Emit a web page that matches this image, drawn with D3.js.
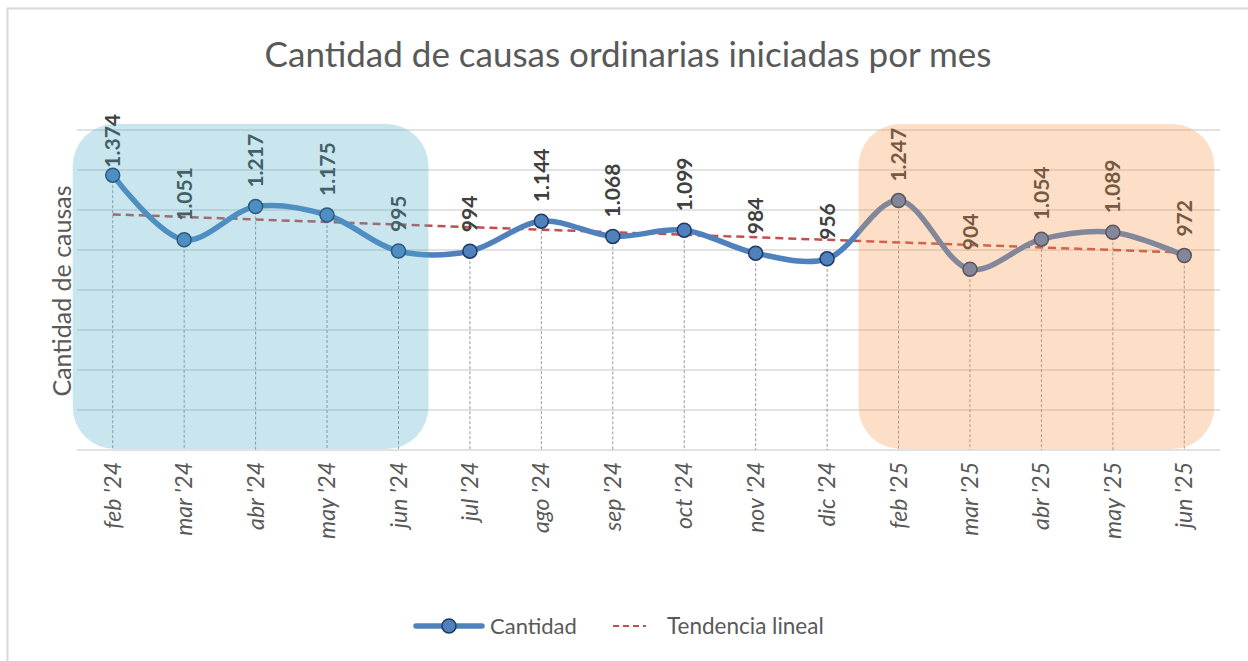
<!DOCTYPE html>
<html><head><meta charset="utf-8">
<script src="https://cdn.jsdelivr.net/npm/d3@7"></script>
<style>
html,body{margin:0;padding:0;background:#fff;}
svg{display:block;}
text{font-family:Lato,"Open Sans",sans-serif;}
</style></head>
<body>
<svg id="chart" width="1248" height="661"></svg>
<script>
const months = ["feb '24","mar '24","abr '24","may '24","jun '24","jul '24","ago '24","sep '24","oct '24","nov '24","dic '24","feb '25","mar '25","abr '25","may '25","jun '25"];
const cantidad = [1374,1051,1217,1175,995,994,1144,1068,1099,984,956,1247,904,1054,1089,972];
const yTicks = [0,200,400,600,800,1000,1200,1400,1600];
const titleText = "Cantidad de causas ordinarias iniciadas por mes";
const yTitle = "Cantidad de causas";
const legendLabels = ["Cantidad","Tendencia lineal"];
const highlight1 = ["feb '24","jun '24"];
const highlight2 = ["feb '25","jun '25"];

const svg = d3.select("#chart");
const W = 1248, H = 661;
const plot = {left:77, right:1220, top:130, bottom:450};

const x = d3.scaleBand().domain(months).range([plot.left, plot.right]);
const cx = d => x(d) + x.bandwidth()/2;
const y = d3.scaleLinear().domain([0,1600]).range([plot.bottom, plot.top]);
const fmt = d3.formatLocale({decimal:",", thousands:".", grouping:[3], currency:["$",""]}).format(",d");

// border
svg.append("rect").attr("x",7.5).attr("y",8.5).attr("width",W+10).attr("height",H+10)
  .attr("fill","#fff").attr("stroke","#d9d9d9").attr("stroke-width",2);

// title
svg.append("text").attr("x",628).attr("y",67).attr("text-anchor","middle")
  .attr("font-size",35).attr("fill","#595959").text(titleText);

// y title
svg.append("text").attr("transform","translate(71,291) rotate(-90)").attr("text-anchor","middle")
  .attr("font-size",25).attr("fill","#595959").text(yTitle);

// gridlines
svg.append("g").selectAll("line").data(yTicks).join("line")
  .attr("x1",plot.left).attr("x2",plot.right)
  .attr("y1",d=>y(d)).attr("y2",d=>y(d))
  .attr("stroke","#d9d9d9").attr("stroke-width",1.5);

// x axis labels
const xAxis = svg.append("g").attr("transform",`translate(0,${plot.bottom})`)
  .call(d3.axisBottom(x).tickSize(0).tickPadding(0));
xAxis.select(".domain").remove();
xAxis.selectAll(".tick text")
  .attr("transform","translate(0,12) rotate(-90)")
  .attr("text-anchor","end").attr("dy","0.35em").attr("x",0).attr("y",0)
  .attr("font-size",23).attr("font-style","italic").attr("fill","#595959")
  .attr("font-family","Lato,'Open Sans',sans-serif");

// drop lines
const pts = months.map((m,i)=>({m, v:cantidad[i], i}));
svg.append("g").selectAll("line").data(pts).join("line")
  .attr("x1",d=>cx(d.m)).attr("x2",d=>cx(d.m))
  .attr("y1",d=>y(d.v)).attr("y2",plot.bottom)
  .attr("stroke","#999").attr("stroke-width",1).attr("stroke-dasharray","3,2");

// trend line (least squares on data)
const n = cantidad.length;
const mx = d3.mean(d3.range(n)), my = d3.mean(cantidad);
const slope = d3.sum(d3.range(n), i => (i-mx)*(cantidad[i]-my)) / d3.sum(d3.range(n), i => (i-mx)*(i-mx));
const icpt = my - slope*mx;
svg.append("line")
  .attr("x1",cx(months[0])).attr("x2",cx(months[n-1]))
  .attr("y1",y(icpt)).attr("y2",y(icpt+slope*(n-1)))
  .attr("stroke","#c0504d").attr("stroke-width",2.5).attr("stroke-dasharray","8,5");

// main line
const line = d3.line().x(d=>cx(d.m)).y(d=>y(d.v)).curve(d3.curveCatmullRom.alpha(0.5));
svg.append("path").datum(pts).attr("d",line).attr("fill","none")
  .attr("stroke","#4f81bd").attr("stroke-width",5.5).attr("stroke-linecap","round");

svg.append("g").selectAll("circle").data(pts).join("circle")
  .attr("cx",d=>cx(d.m)).attr("cy",d=>y(d.v)).attr("r",7)
  .attr("fill","#4f81bd").attr("stroke","#1f3864").attr("stroke-width",1.5);

// data labels (above points, kept below the chart top)
const labelTopLimit = 114, labelGap = 19;
const labels = svg.append("g").selectAll("text").data(pts).join("text")
  .attr("text-anchor","start").attr("dy","0.36em")
  .attr("font-size",21).attr("font-weight","bold").attr("fill","#404040")
  .text(d=>fmt(d.v));
labels.each(function(d){
  const len = this.getComputedTextLength();
  let start = y(d.v) - labelGap;
  if (start - len < labelTopLimit) start = labelTopLimit + len;
  d3.select(this).attr("transform",`translate(${cx(d.m)},${start}) rotate(-90)`);
});

// highlight boxes
function box(range, color){
  const x0 = cx(range[0]) - 40, x1 = cx(range[1]) + 30;
  svg.append("rect").attr("x",x0).attr("y",y(1600)-6)
    .attr("width",x1-x0).attr("height",y(0)-1-(y(1600)-6))
    .attr("rx",42).attr("ry",42)
    .attr("fill",color).attr("fill-opacity",0.3);
}
box(highlight1,"#4bacc6");
box(highlight2,"#f79646");

// legend
const lg = svg.append("g");
lg.append("line").attr("x1",416).attr("x2",482).attr("y1",626).attr("y2",626)
  .attr("stroke","#4f81bd").attr("stroke-width",5.5).attr("stroke-linecap","round");
lg.append("circle").attr("cx",449).attr("cy",626).attr("r",7)
  .attr("fill","#4f81bd").attr("stroke","#1f3864").attr("stroke-width",1.5);
lg.append("text").attr("x",490).attr("y",626).attr("dy","0.35em")
  .attr("font-size",22).attr("fill","#595959").text(legendLabels[0]);
lg.append("line").attr("x1",613).attr("x2",646).attr("y1",626).attr("y2",626)
  .attr("stroke","#c0504d").attr("stroke-width",2).attr("stroke-dasharray","6,4");
lg.append("text").attr("x",667).attr("y",626).attr("dy","0.35em")
  .attr("font-size",22.5).attr("fill","#595959").text(legendLabels[1]);
</script>
</body></html>
